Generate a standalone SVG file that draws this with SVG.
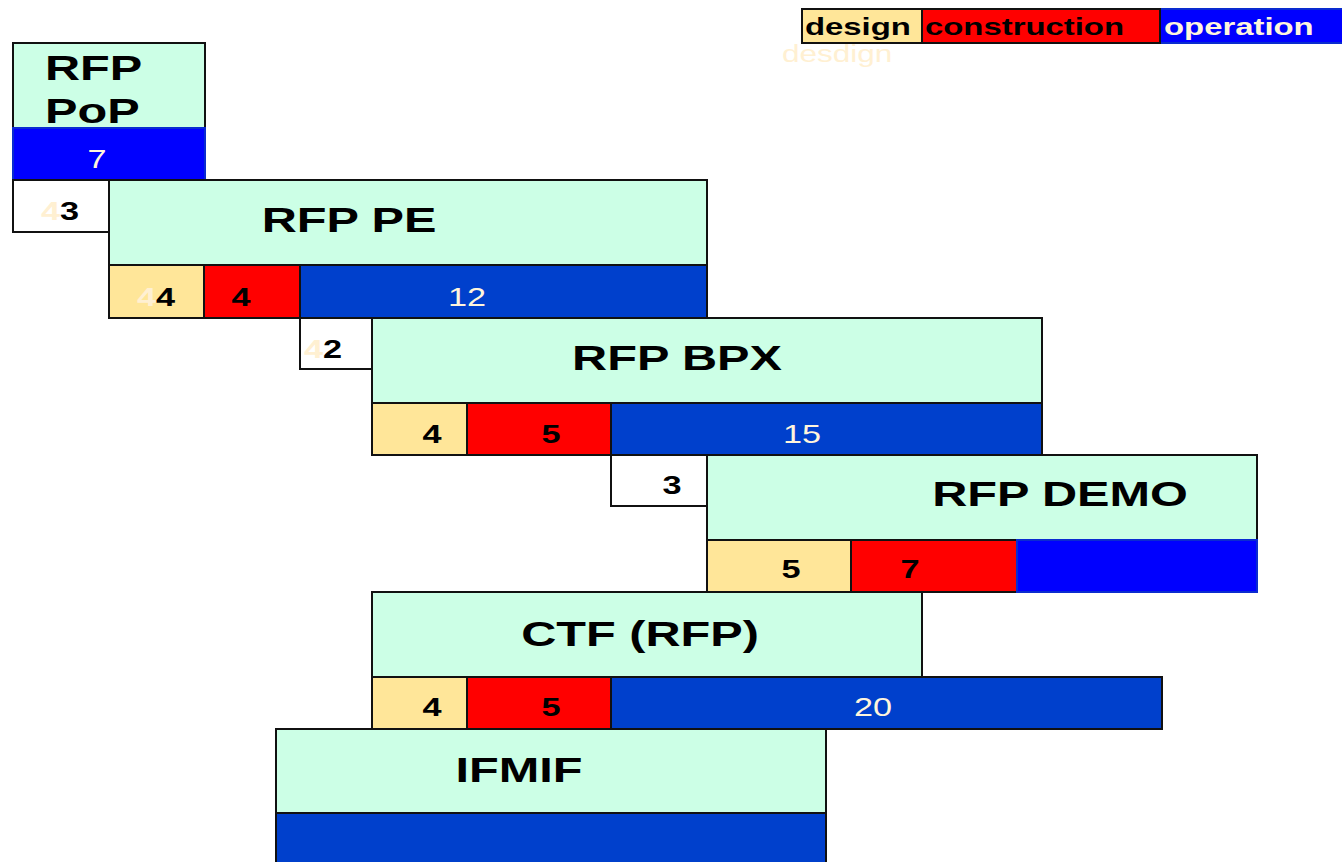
<svg xmlns="http://www.w3.org/2000/svg" width="1342" height="862" viewBox="0 0 1342 862">
  <style>
    .box { fill: #CCFFE6; stroke: #111; stroke-width: 2; }
    .gap { fill: #FFFFFF; stroke: #111; stroke-width: 2; }
    .des { fill: #FFE699; stroke: #111; stroke-width: 2; }
    .con { fill: #FF0000; stroke: #111; stroke-width: 2; }
    .op { fill: #0040CC; stroke: #111; stroke-width: 2; }
    .opb { fill: #0000FF; stroke: #0A2BD0; stroke-width: 2; }
    text { font-family: "Liberation Sans", Arial, sans-serif; }
    .title { font-size: 35.5px; font-weight: bold; fill: #000; }
    .num { font-size: 25px; font-weight: bold; fill: #000; text-anchor: middle; }
    .wnum { font-size: 25px; fill: #FFF5DC; text-anchor: middle; }
    .ghost { fill: #FFF0D2; }
    .leg { font-size: 24px; font-weight: bold; }
  </style>

  <!-- legend -->
  <g id="legend">
    <rect x="1160" y="9" width="184" height="34" class="opb"/>
    <rect x="922" y="9" width="238" height="34" class="con"/>
    <rect x="802" y="9" width="120" height="34" class="des"/>
    <text class="leg" transform="translate(805,35) scale(1.37,1)" fill="#000">design</text>
    <text class="leg" transform="translate(925,35) scale(1.37,1)" fill="#000">construction</text>
    <text class="leg" transform="translate(1164,35) scale(1.37,1)" fill="#FFF5DC">operation</text>
    <text transform="translate(782,62) scale(1.37,1)" font-size="23" fill="#FFF0D2">desdign</text>
  </g>

  <!-- RFP PoP -->
  <g id="rfp-pop">
    <rect x="13" y="43" width="192" height="85" class="box"/>
    <rect x="13" y="128" width="192" height="52" class="opb"/>
    <text class="title" transform="translate(45,80) scale(1.37,1)">RFP</text>
    <text class="title" transform="translate(45,123) scale(1.37,1)">PoP</text>
    <text class="wnum" transform="translate(97,168) scale(1.37,1)">7</text>
  </g>

  <!-- gap before RFP PE -->
  <g id="gap-pe">
    <rect x="13" y="180" width="96" height="52" class="gap"/>
    <text class="num" transform="translate(60,220) scale(1.37,1)"><tspan class="ghost">4</tspan>3</text>
  </g>

  <!-- RFP PE -->
  <g id="rfp-pe">
    <rect x="109" y="180" width="598" height="85" class="box"/>
    <text class="title" text-anchor="middle" transform="translate(349,232) scale(1.37,1)">RFP PE</text>
    <rect x="109" y="265" width="95" height="53" class="des"/>
    <rect x="204" y="265" width="96" height="53" class="con"/>
    <rect x="300" y="265" width="407" height="53" class="op"/>
    <text class="num" transform="translate(156,306) scale(1.37,1)"><tspan class="ghost">4</tspan>4</text>
    <text class="num" transform="translate(241,306) scale(1.37,1)">4</text>
    <text class="wnum" transform="translate(467,306) scale(1.37,1)">12</text>
  </g>

  <!-- gap before RFP BPX -->
  <g id="gap-bpx">
    <rect x="300" y="318" width="72" height="51" class="gap"/>
    <text class="num" transform="translate(323,358) scale(1.37,1)"><tspan class="ghost">4</tspan>2</text>
  </g>

  <!-- RFP BPX -->
  <g id="rfp-bpx">
    <rect x="372" y="318" width="670" height="85" class="box"/>
    <text class="title" text-anchor="middle" transform="translate(677,370) scale(1.37,1)">RFP BPX</text>
    <rect x="372" y="403" width="95" height="52" class="des"/>
    <rect x="467" y="403" width="144" height="52" class="con"/>
    <rect x="611" y="403" width="431" height="52" class="op"/>
    <text class="num" transform="translate(432,443) scale(1.37,1)">4</text>
    <text class="num" transform="translate(551,443) scale(1.37,1)">5</text>
    <text class="wnum" transform="translate(802,443) scale(1.37,1)">15</text>
  </g>

  <!-- gap before RFP DEMO -->
  <g id="gap-demo">
    <rect x="611" y="455" width="96" height="51" class="gap"/>
    <text class="num" transform="translate(672,494) scale(1.37,1)">3</text>
  </g>

  <!-- RFP DEMO -->
  <g id="rfp-demo">
    <rect x="707" y="455" width="550" height="85" class="box"/>
    <text class="title" text-anchor="middle" transform="translate(1060,506) scale(1.37,1)">RFP DEMO</text>
    <rect x="707" y="540" width="144" height="52" class="des"/>
    <rect x="851" y="540" width="166" height="52" class="con"/>
    <rect x="1017" y="540" width="240" height="52" class="opb"/>
    <text class="num" transform="translate(791,578) scale(1.37,1)">5</text>
    <text class="num" transform="translate(910,578) scale(1.37,1)">7</text>
  </g>

  <!-- CTF (RFP) -->
  <g id="ctf-rfp">
    <rect x="372" y="592" width="550" height="85" class="box"/>
    <text class="title" text-anchor="middle" transform="translate(640,646) scale(1.37,1)">CTF (RFP)</text>
    <rect x="372" y="677" width="95" height="52" class="des"/>
    <rect x="467" y="677" width="144" height="52" class="con"/>
    <rect x="611" y="677" width="551" height="52" class="op"/>
    <text class="num" transform="translate(432,716) scale(1.37,1)">4</text>
    <text class="num" transform="translate(551,716) scale(1.37,1)">5</text>
    <text class="wnum" transform="translate(873,716) scale(1.37,1)">20</text>
  </g>

  <!-- IFMIF -->
  <g id="ifmif">
    <rect x="276" y="729" width="550" height="84" class="box"/>
    <text class="title" text-anchor="middle" transform="translate(519,782) scale(1.37,1)">IFMIF</text>
    <rect x="276" y="813" width="550" height="60" class="op"/>
  </g>

  <!-- connectors: none drawn; stages abut directly -->
  <g id="connectors"/>
</svg>
